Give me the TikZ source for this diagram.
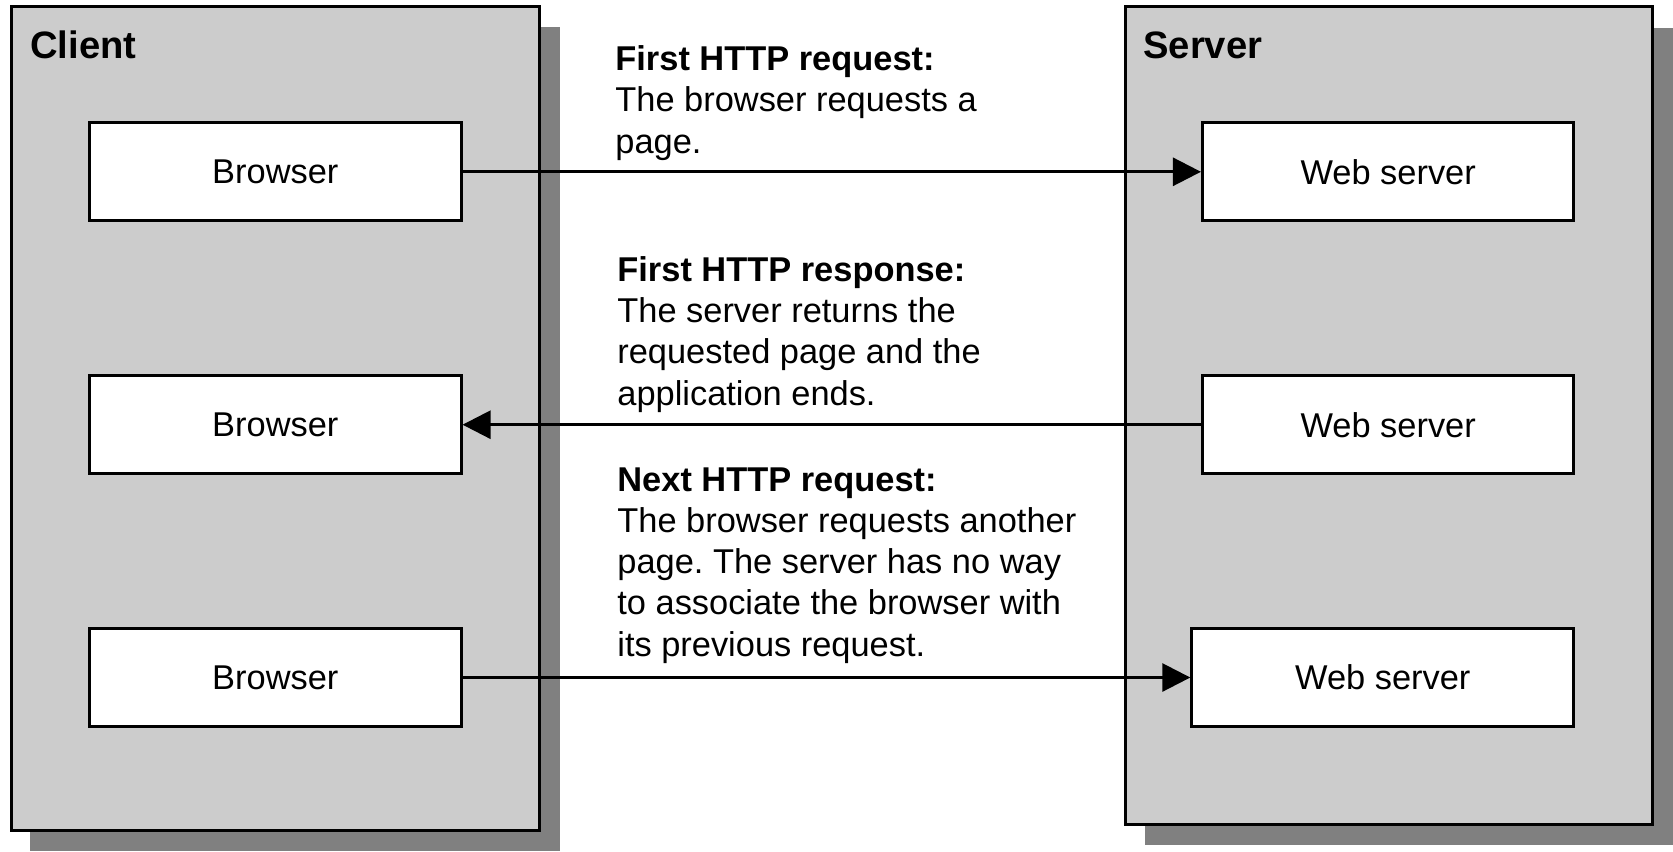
\documentclass[tikz,border=0pt]{standalone}
\usepackage{fontspec}
\setmainfont{Liberation Sans}
\frenchspacing
\usetikzlibrary{arrows.meta}
\tikzset{
  box/.style = {draw, line width=1.5pt, fill=white, minimum width=185.75pt,
                minimum height=49pt, inner sep=0pt,
                font=\fontsize{17.2}{20.6}\selectfont},
  msg/.style = {line width=1.4pt, -{Triangle[length=14pt,width=14pt]}},
  note/.style = {anchor=base west, align=left, inner sep=0pt,
                 font=\fontsize{17.2}{20.6}\selectfont},
  paneltitle/.style = {anchor=base west, inner sep=0pt,
                       font=\fontsize{19.1}{23}\selectfont\bfseries},
  panel/.style = {draw, line width=1.5pt, fill=black!20},
  shade/.style = {fill=black!50}
}

\begin{document}
\begin{tikzpicture}[x=0.5pt, y=-0.5pt]
  \useasboundingbox (0,0) rectangle (1673,851);
  % client
  \fill [shade] (30,27) rectangle (560,851);
  \draw [panel] (11,6) rectangle (539,830);
  \node [paneltitle] (client) at (30,58) {Client};
  \node [box] (b1) at (275.3,171.8) {Browser};
  \node [box] (b2) at (275.3,424.7) {Browser};
  \node [box] (b3) at (275.3,677.5) {Browser};
  % server
  \fill [shade] (1145,28) rectangle (1673,845);
  \draw [panel] (1125,6) rectangle (1652,824);
  \node [paneltitle] (server) at (1143,58) {Server};
  \node [box] (w1) at (1388.2,171.8) {Web server};
  \node [box] (w2) at (1388.2,424.7) {Web server};
  \node [box, minimum width=191pt] (w3) at (1382.8,677.5) {Web server};
  % messages
  \draw [msg] (b1) -- (w1);
  \draw [msg] (w2) -- (b2);
  \draw [msg] (b3) -- (w3);
  \node [note] (n1) at (615,153) {\bfseries First HTTP request:\\
    The browser requests a\\ page.};
  \node [note] (n2) at (617,405) {\bfseries First HTTP response:\\
    The server returns the\\ requested page and the\\ application ends.};
  \node [note] (n3) at (617,656) {\bfseries Next HTTP request:\\
    The browser requests another\\ page. The server has no way\\
    to associate the browser with\\ its previous request.};
\end{tikzpicture}
\end{document}
